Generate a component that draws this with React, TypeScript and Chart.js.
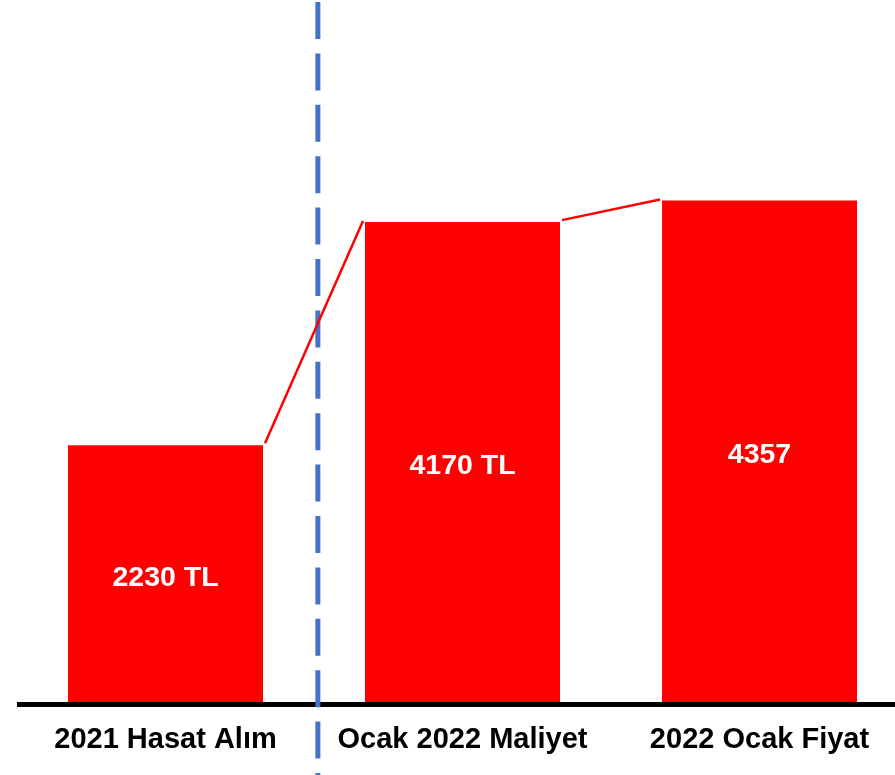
import React, { useEffect, useRef } from "react";
import { Chart, registerables } from "chart.js";

Chart.register(...registerables);

const categories = ["2021 Hasat Alım", "Ocak 2022 Maliyet", "2022 Ocak Fiyat"];
const values = [2230, 4170, 4357];
const barLabels = ["2230 TL", "4170 TL", "4357"];
const yMax = 6100;
const dividerPosition = 0.513; // in category units, between first and second bar

const FONT = '"Liberation Sans", Arial, Helvetica, sans-serif';

const overlayPlugin = {
  id: "overlay",
  afterDatasetsDraw(chart: any) {
    const ctx = chart.ctx;
    const area = chart.chartArea;
    const meta = chart.getDatasetMeta(0);
    const xScale = chart.scales.x;

    // baseline
    ctx.save();
    ctx.fillStyle = "#000000";
    ctx.fillRect(area.left, area.bottom, chart.width - area.left, 5);
    ctx.restore();

    // value labels inside bars
    ctx.save();
    ctx.fillStyle = "#FFFFFF";
    ctx.font = `bold 28.5px ${FONT}`;
    ctx.textAlign = "center";
    ctx.textBaseline = "middle";
    meta.data.forEach((bar: any, i: number) => {
      const { x, y, base } = bar.getProps(["x", "y", "base"], true);
      ctx.fillText(barLabels[i], x, (y + base) / 2 + 4);
    });
    ctx.restore();

    // dashed divider
    const dx = xScale.getPixelForValue(dividerPosition);
    ctx.save();
    ctx.strokeStyle = "#4472C4";
    ctx.lineWidth = 5;
    ctx.setLineDash([37, 14.4]);
    ctx.beginPath();
    ctx.moveTo(dx, 2);
    ctx.lineTo(dx, chart.height);
    ctx.stroke();
    ctx.restore();

    // connectors
    ctx.save();
    ctx.strokeStyle = "#FF0000";
    ctx.lineWidth = 2.5;
    for (let i = 0; i < meta.data.length - 1; i++) {
      const a = meta.data[i].getProps(["x", "y", "width"], true);
      const b = meta.data[i + 1].getProps(["x", "y", "width"], true);
      ctx.beginPath();
      ctx.moveTo(a.x + a.width / 2 + 2, a.y - 2);
      ctx.lineTo(b.x - b.width / 2 - 2, b.y - 1);
      ctx.stroke();
    }
    ctx.restore();
  },
};

export default function App() {
  const ref = useRef<HTMLCanvasElement | null>(null);

  useEffect(() => {
    if (!ref.current) return;
    const chart = new Chart(ref.current, {
      type: "bar",
      data: {
        labels: categories,
        datasets: [
          {
            data: values,
            backgroundColor: "#FF0000",
            borderWidth: 0,
            barPercentage: 0.6566,
            categoryPercentage: 1,
          },
        ],
      },
      options: {
        responsive: false,
        animation: false,
        devicePixelRatio: 1,
        layout: { padding: { left: 17, right: 4, top: 0, bottom: 0 } },
        plugins: {
          legend: { display: false },
          tooltip: { enabled: false },
        },
        scales: {
          x: {
            grid: { display: false, drawTicks: false },
            border: { display: false },
            ticks: {
              color: "#000000",
              padding: 21,
              font: { family: FONT, weight: "bold", size: 29 },
              maxRotation: 0,
              autoSkip: false,
            },
            afterFit: (scale: any) => {
              scale.height = 73;
            },
          },
          y: {
            display: false,
            min: 0,
            max: yMax,
          },
        },
      },
      plugins: [overlayPlugin],
    });
    return () => chart.destroy();
  }, []);

  return (
    <div
      style={{
        position: "fixed",
        left: 0,
        top: 0,
        width: 895,
        height: 775,
        overflow: "hidden",
        background: "#FFFFFF",
      }}
    >
      <canvas ref={ref} width={912} height={775} style={{ display: "block" }} />
    </div>
  );
}
